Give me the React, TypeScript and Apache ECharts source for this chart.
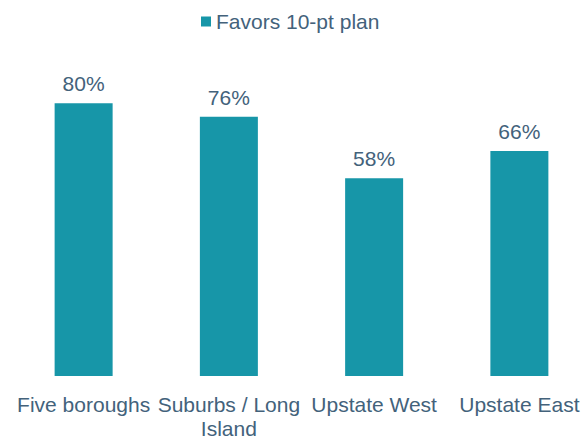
import React, { useEffect, useRef } from "react";
import * as echarts from "echarts";

const categories = ["Five boroughs", "Suburbs / Long\nIsland", "Upstate West", "Upstate East"];
const seriesName = "Favors 10-pt plan";
const values = [80, 76, 58, 66];

const TEXT = "#43627b";
const TEAL = "#1796a8";
const FONT = "'Liberation Sans', Arial, sans-serif";

export default function App() {
  const ref = useRef<HTMLDivElement>(null);
  useEffect(() => {
    if (!ref.current) return;
    const chart = echarts.init(ref.current, null, { renderer: "svg" });
    chart.setOption({
      animation: false,
      textStyle: { fontFamily: FONT },
      legend: {
        top: 6,
        left: 196,
        itemWidth: 10,
        itemHeight: 10,
        itemGap: 10,
        icon: "rect",
        textStyle: { fontSize: 21, color: TEXT, fontFamily: FONT },
        data: [seriesName],
      },
      grid: { left: 11, right: 8, top: 35, bottom: 65, containLabel: false },
      xAxis: {
        type: "category",
        data: categories,
        axisLine: { show: false },
        axisTick: { show: false },
        axisLabel: {
          interval: 0,
          margin: 16,
          fontSize: 21,
          lineHeight: 24,
          color: TEXT,
          fontFamily: FONT,
        },
      },
      yAxis: {
        type: "value",
        min: 0,
        max: 100,
        show: false,
        splitLine: { show: false },
      },
      series: [
        {
          name: seriesName,
          type: "bar",
          data: values,
          barWidth: 58,
          itemStyle: { color: TEAL },
          label: {
            show: true,
            position: "top",
            distance: 9,
            formatter: "{c}%",
            fontSize: 21,
            color: TEXT,
            fontFamily: FONT,
          },
        },
      ],
    });
    return () => chart.dispose();
  }, []);
  return (
    <div
      style={{
        position: "absolute",
        left: 0,
        top: 0,
        width: 585,
        height: 441,
        overflow: "hidden",
      }}
    >
      <div ref={ref} style={{ width: 600, height: 441 }} />
    </div>
  );
}
